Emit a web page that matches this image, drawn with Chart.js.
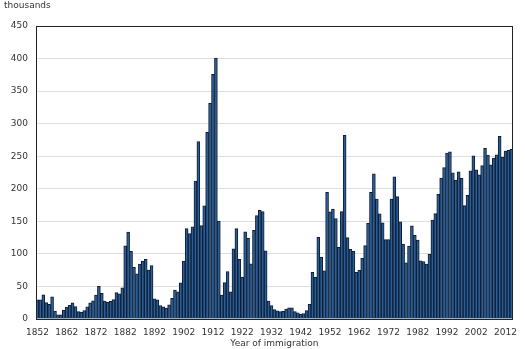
<!DOCTYPE html>
<html>
<head>
<meta charset="utf-8">
<script src="https://cdn.jsdelivr.net/npm/chart.js@4/dist/chart.umd.min.js"></script>
<style>
  html, body { margin: 0; padding: 0; background: #fff; }
  #wrap { width: 525px; height: 349px; position: relative; }
</style>
</head>
<body>
<div id="wrap"><canvas id="c" width="525" height="349"></canvas></div>
<script>
// Immigrants admitted to Canada per year, in thousands, 1852 to 2014
const firstYear = 1852;
const immigrants = [
  29.3, 29.5, 37.3, 25.3, 22.5, 33.9, 12.3, 6.3, 6.3, 13.6,
  18.3, 21.0, 24.8, 19.0, 11.4, 10.7, 12.8, 18.6, 24.7, 27.8,
  36.6, 50.1, 39.4, 27.4, 25.6, 27.1, 29.8, 40.5, 38.5, 48.0,
  112.5, 133.6, 103.8, 79.2, 69.2, 84.5, 88.8, 91.6, 75.1, 82.2,
  31.0, 29.6, 20.8, 18.8, 16.8, 21.7, 31.9, 44.5, 41.7, 55.7,
  89.1, 138.7, 131.3, 141.5, 211.7, 272.4, 143.3, 173.7, 286.8, 331.3,
  375.8, 400.9, 150.5, 36.7, 55.9, 72.9, 41.8, 107.7, 138.8, 91.7,
  64.2, 133.7, 124.2, 84.9, 136.0, 158.9, 166.8, 165.0, 104.8, 27.5,
  20.6, 14.4, 12.5, 11.3, 11.6, 15.1, 17.2, 17.0, 11.3, 9.3,
  7.6, 8.5, 12.8, 22.7, 71.7, 64.1, 125.4, 95.2, 73.9, 194.4,
  164.5, 168.9, 154.2, 109.9, 164.9, 282.2, 124.9, 106.9, 104.1, 71.7,
  74.6, 93.2, 112.6, 146.8, 194.7, 222.9, 184.0, 161.5, 147.7, 121.9,
  122.0, 184.2, 218.5, 187.9, 149.4, 114.9, 86.3, 112.1, 143.1, 128.6,
  121.1, 89.2, 88.2, 84.3, 99.2, 152.1, 161.9, 191.6, 216.5, 232.7,
  254.8, 256.7, 224.4, 212.9, 226.1, 216.0, 174.2, 190.0, 227.5, 250.6,
  229.0, 221.3, 235.8, 262.2, 251.6, 236.8, 247.2, 252.2, 280.7, 248.7,
  257.9, 259.0, 260.4
];
const years = immigrants.map((_, i) => String(firstYear + i));
const yTicks = [0, 50, 100, 150, 200, 250, 300, 350, 400, 450];
const unitLabel = 'thousands';
const xTitle = 'Year of immigration';

const fontFamily = 'Verdana, "DejaVu Sans", sans-serif';

// frame around the plot area and the unit label above the value axis
const framePlugin = {
  id: 'frame',
  afterDraw(chart) {
    const { ctx, chartArea: a } = chart;
    ctx.save();
    ctx.strokeStyle = '#222';
    ctx.lineWidth = 1;
    ctx.strokeRect(Math.round(a.left) + 0.5, Math.round(a.top) + 0.5,
                   Math.round(a.right - a.left) - 1, Math.round(a.bottom - a.top));
    ctx.fillStyle = '#333';
    ctx.font = '9px ' + fontFamily;
    ctx.textBaseline = 'middle';
    ctx.textAlign = 'left';
    ctx.fillText(unitLabel, 4, 6);
    ctx.restore();
  }
};

new Chart(document.getElementById('c'), {
  type: 'bar',
  data: {
    labels: years,
    datasets: [{
      data: immigrants,
      backgroundColor: '#2d5e96',
      borderColor: '#0c1d33',
      borderWidth: 1,
      barPercentage: 1,
      categoryPercentage: 1
    }]
  },
  options: {
    responsive: false,
    animation: false,
    events: [],
    layout: { padding: { top: 26, right: 2, left: 0, bottom: 0 } },
    plugins: { legend: { display: false }, tooltip: { enabled: false } },
    scales: {
      x: {
        afterFit: s => { s.height = 30; },
        grid: { display: false, drawTicks: false },
        border: { display: false },
        ticks: {
          autoSkip: false,
          maxRotation: 0,
          padding: 8,
          color: '#333',
          font: { family: fontFamily, size: 9 },
          callback: (v, i) => (i % 10 === 0 ? years[i] : null)
        },
        title: {
          display: true,
          text: xTitle,
          color: '#333',
          font: { family: fontFamily, size: 9 },
          padding: { top: 0, bottom: 0 }
        }
      },
      y: {
        min: 0,
        max: 450,
        afterBuildTicks: s => { s.ticks = yTicks.map(v => ({ value: v })); },
        afterFit: s => { s.width = 36; },
        grid: { color: '#dedede', lineWidth: 1, drawTicks: false },
        border: { display: true, color: '#222' },
        ticks: {
          padding: 8,
          color: '#333',
          font: { family: fontFamily, size: 9 }
        }
      }
    }
  },
  plugins: [framePlugin]
});
</script>
</body>
</html>
